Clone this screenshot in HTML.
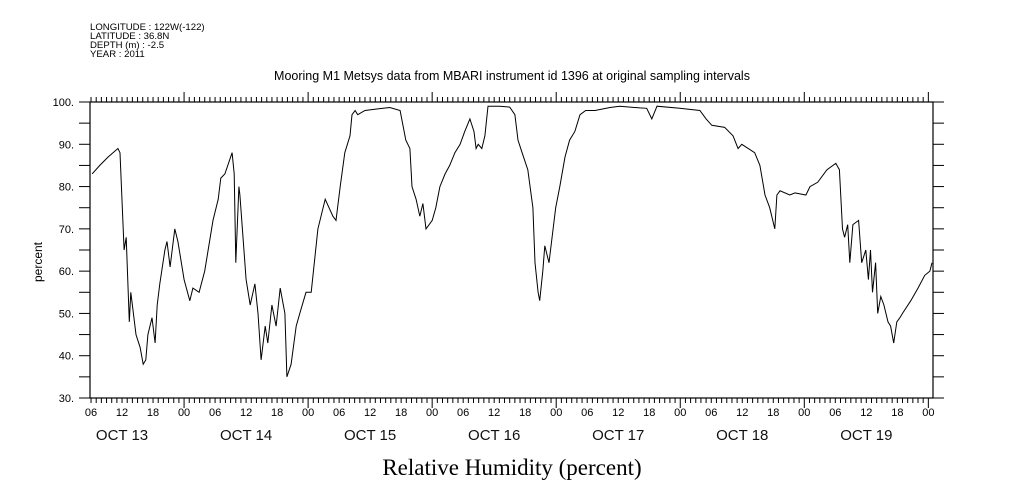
<!DOCTYPE html>
<html><head><meta charset="utf-8"><style>
html,body{margin:0;padding:0;background:#fff;}
svg{display:block;font-family:"Liberation Sans",sans-serif;}
</style></head><body>
<svg id="chart" width="1009" height="504" viewBox="0 0 1009 504">
<g font-size="9.6" fill="#000">
<text x="90" y="30">LONGITUDE : 122W(-122)</text>
<text x="90" y="39">LATITUDE : 36.8N</text>
<text x="90" y="48">DEPTH (m) : -2.5</text>
<text x="90" y="57">YEAR : 2011</text>
</g>
<text x="512" y="80" text-anchor="middle" font-size="12.5">Mooring M1 Metsys data from MBARI instrument id 1396 at original sampling intervals</text>
<text transform="translate(42,262) rotate(-90)" text-anchor="middle" font-size="12">percent</text>
<text x="512" y="475" text-anchor="middle" font-family="Liberation Serif,serif" font-size="23">Relative Humidity (percent)</text>
<g id="axes"></g>
<path id="series" fill="none" stroke="#000" stroke-width="1"/>
</svg>
<script>
const hours=[0.2,1.7,3.3,5.2,5.6,6.4,6.8,7.4,7.7,8.7,9.5,10.1,10.6,11,11.8,12.4,12.8,13.3,14.3,14.7,15.3,16.2,16.8,18,19.1,19.7,20.9,22,23.6,24.6,25.1,25.9,27.3,27.7,28,28.6,28.8,29.4,30,30.8,31.7,32.3,32.9,33.7,34.2,35,35.8,36.6,37.5,37.9,38.7,39.7,40.4,41.6,42.6,43.9,45.3,46.8,47.4,48.2,49.1,50.1,50.5,51.1,51.6,53,54.9,57.8,59.8,60.9,61.7,62.1,62.9,63.6,64.2,64.8,66,66.7,67.5,68.5,69.4,70.4,71.4,72.3,73.3,74.1,74.5,74.9,75.6,76.2,76.8,79.1,81,82,82.6,83.4,84.5,85.5,85.9,86.5,86.8,87.4,87.8,88.2,88.6,89.4,89.9,90.7,91.7,92.6,93.6,94.6,95.7,97.5,100.4,102.3,106.2,107.5,108.5,109.5,113.9,117.8,119,120.1,122.6,124.2,125.2,125.9,128.4,129.4,130.4,131.3,132.3,132.7,133.3,135.2,136.2,138.3,139.1,140.6,142.4,144.1,144.8,145.4,145.8,146.4,146.8,147.4,148.5,149.1,149.9,150.4,150.8,151.2,151.8,152.2,152.8,153.4,154.2,154.7,155.3,155.9,156.5,157,158.6,160,161.3,162.3,162.7];
const humidity=[83,85,87,89,88,65,68,48,55,45,42,38,39,45,49,43,52,57,65,67,61,70,67,58,53,56,55,60,72,77,82,83,88,83,62,80,78,68,58,52,57,50,39,47,43,52,47,56,50,35,38,47,50,55,55,70,77,73,72,80,88,92,97,98,97,98,98.3,98.7,98,91,89,80,77,73,76,70,72,75,80,83,85,88,90,93,96,93,89,90,89,92,99,99,98.8,97,91,88,84,75,62,55,53,60,66,64,62,70,75,80,87,91,93,97,98,98,98.7,99,98.6,98.5,96,99,98.5,98,96,94.5,94,92,89,90,88,85,78,75,70,78,79,78,78.5,78,80,81,84,85.5,84,70,68,71,62,71,72,62,65,58,65,55,62,50,54,52,48,47,43,48,49,50,53,56,59,60,62];
const yTicks=[30,40,50,60,70,80,90,100];
const hourLabels=["06","12","18","00"];
const dayLabels=["OCT 13","OCT 14","OCT 15","OCT 16","OCT 17","OCT 18","OCT 19"];
const X0=90,X1=933,Y0=398,Y1=102,H0=-0.2,H1=162.9,V0=30,V1=100;
function xs(h){return X0+(h-H0)/(H1-H0)*(X1-X0);}
function ys(v){return Y0-(v-V0)/(V1-V0)*(Y0-Y1);}
const NS="http://www.w3.org/2000/svg";
const ax=document.getElementById('axes');
function el(t,a){const e=document.createElementNS(NS,t);for(const k in a)e.setAttribute(k,a[k]);ax.appendChild(e);return e;}
const box=el('rect',{x:X0,y:Y1,width:X1-X0,height:Y0-Y1,fill:'none',stroke:'#000','stroke-width':1.2});


for(let v=30;v<=100;v+=5){
  const y=ys(v);
  const tl=el('line',{x1:X0-11,x2:X0,y1:y,y2:y,stroke:'#000'});
  
  
  const tr=el('line',{x1:X1,x2:X1+11,y1:y,y2:y,stroke:'#000'});
  
  
}
yTicks.forEach(v=>{
  const t=el('text',{x:X0-16,y:ys(v)+4,'text-anchor':'end','font-size':11});
  t.textContent=v+'.';
  
  
});
for(let h=0;h<=162;h++){
  const x=xs(h);const major=((h+6)%24===0);const len=major?10:5;
  const b=el('line',{x1:x,x2:x,y1:Y0,y2:Y0+len,stroke:'#000'});
  
  
  const t=el('line',{x1:x,x2:x,y1:Y1-len,y2:Y1,stroke:'#000'});
  
  
  if(h%6===0){
    const l=el('text',{x:x,y:416,'text-anchor':'middle','font-size':11});
    l.textContent=hourLabels[(h/6)%4];
    
    
  }
}
dayLabels.forEach((d,i)=>{
  const t=el('text',{x:xs(i*24+6),y:440,'text-anchor':'middle','font-size':15,fill:'#111'});
  t.textContent=d;
  
  
});
let d='';
hours.forEach((h,i)=>{d+=(i?'L':'M')+xs(h).toFixed(1)+','+ys(humidity[i]).toFixed(1);});
document.getElementById('series').setAttribute('d',d);
</script>
</body></html>
